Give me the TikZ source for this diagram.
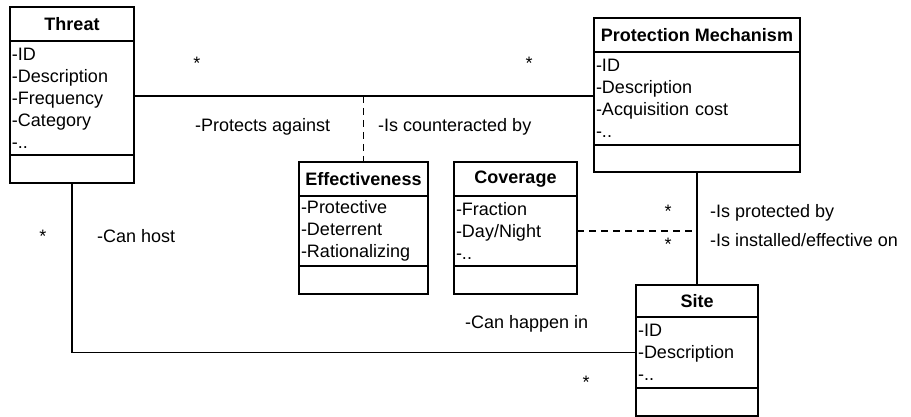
\documentclass[tikz,border=0pt]{standalone}
\usepackage{fontspec}
\setmainfont{Liberation Sans}
\usetikzlibrary{positioning}

\begin{document}
\begin{tikzpicture}[
    x=1pt, y=-1pt,
    font=\fontsize{18}{22}\selectfont,
    % Class name compartment
    classname/.style={
        rectangle, draw, line width=1.2pt, anchor=north west, outer sep=0pt,
        inner sep=0pt, font=\fontsize{18}{22}\selectfont\bfseries
    },
    % Attribute compartment
    classattr/.style={
        rectangle, draw, line width=1.2pt, align=left, outer sep=0pt,
        inner xsep=2pt, inner ysep=0pt
    },
    % Operation compartment (empty)
    classops/.style={rectangle, draw, line width=1.2pt, inner sep=0pt, outer sep=0pt},
    % Association lines
    assoc/.style={line width=1.2pt},
    assoclink/.style={line width=1.2pt, dash pattern=on 7pt off 5pt},
    % Multiplicity and role labels
    mult/.style={anchor=base, inner sep=0pt},
    role/.style={anchor=base west, inner sep=0pt}
]
    \useasboundingbox (0,0) rectangle (911,417);

    % =========================================================================
    % Classes
    % =========================================================================
    % Threat
    \node[classname, minimum width=124pt, minimum height=34pt] (threat) at (10,7) {Threat};
    \node[classattr, below=0pt of threat, text width=120pt, minimum height=114pt] (threat-attr)
        {-ID\\-Description\\-Frequency\\-Category\\-..};
    \node[classops, below=0pt of threat-attr, minimum width=124pt, minimum height=28pt] (threat-ops) {};

    % Protection Mechanism
    \node[classname, minimum width=206pt, minimum height=34pt] (pm) at (594,18) {Protection Mechanism};
    \node[classattr, below=0pt of pm, text width=202pt, minimum height=93pt] (pm-attr)
        {-ID\\-Description\\-Acquisition cost\\-..};
    \node[classops, below=0pt of pm-attr, minimum width=206pt, minimum height=27pt] (pm-ops) {};

    % Effectiveness
    \node[classname, minimum width=129pt, minimum height=34pt] (eff) at (299,162) {Effectiveness};
    \node[classattr, below=0pt of eff, text width=125pt, minimum height=70pt] (eff-attr)
        {-Protective\\-Deterrent\\-Rationalizing};
    \node[classops, below=0pt of eff-attr, minimum width=129pt, minimum height=28pt] (eff-ops) {};

    % Coverage
    \node[classname, minimum width=123pt, minimum height=34pt] (cov) at (454,162) {Coverage};
    \node[classattr, below=0pt of cov, text width=119pt, minimum height=70pt] (cov-attr)
        {-Fraction\\-Day/Night\\-..};
    \node[classops, below=0pt of cov-attr, minimum width=123pt, minimum height=28pt] (cov-ops) {};

    % Site
    \node[classname, minimum width=122pt, minimum height=32pt] (site) at (636,285) {Site};
    \node[classattr, below=0pt of site, text width=118pt, minimum height=71pt] (site-attr)
        {-ID\\-Description\\-..};
    \node[classops, below=0pt of site-attr, minimum width=122pt, minimum height=28pt] (site-ops) {};

    % =========================================================================
    % Associations
    % =========================================================================
    \coordinate (counter-mid) at (363.5,96);
    \draw[assoc] (threat-attr.east |- counter-mid) -- (pm-attr.west |- counter-mid);
    \draw[assoclink] (counter-mid) -- (eff.north);

    \draw[assoc] (pm-ops.south) -- (site.north);
    \draw[assoclink] (cov-attr.east) -- (cov-attr.east -| site.north);

    \draw[assoc] (threat-ops.south) |- (site-attr.west);

    % =========================================================================
    % Multiplicities and roles
    % =========================================================================
    \node[mult] (m-threat-pm) at (197,70) {*};
    \node[mult] (m-pm-threat) at (529,70) {*};
    \node[mult] (m-pm-site) at (668,218) {*};
    \node[mult] (m-site-pm) at (668,250) {*};
    \node[mult] (m-threat-site) at (43,243) {*};
    \node[mult] (m-site-threat) at (586,388) {*};

    \node[role] (r-protects) at (195,132) {-Protects against};
    \node[role] (r-counter) at (378,132) {-Is counteracted by};
    \node[role] (r-host) at (97,243) {-Can host};
    \node[role] (r-happen) at (465,328) {-Can happen in};
    \node[role] (r-protected) at (710,218) {-Is protected by};
    \node[role] (r-installed) at (710,246) {-Is installed/effective on};

\end{tikzpicture}
\end{document}
